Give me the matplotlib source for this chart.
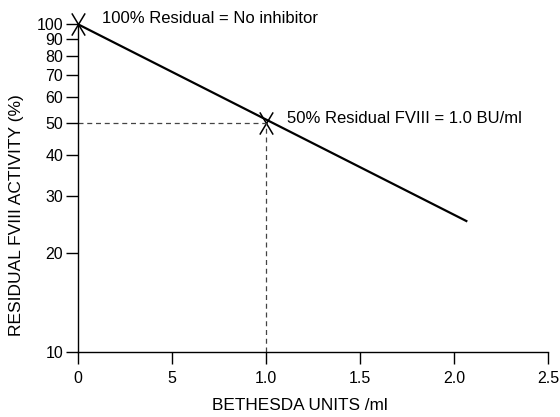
import numpy as np
import matplotlib
matplotlib.use("Agg")
import matplotlib.pyplot as plt
from matplotlib.path import Path

plt.rcParams['font.family'] = ['Liberation Sans', 'DejaVu Sans']

# inhibitor titration line (log residual activity vs BU)
bu = [0.0, 2.07]
residual = [100, 25]
# reference points
mark_bu = [0.0, 1.0]
mark_res = [100, 50]

xticks = [0, 0.5, 1.0, 1.5, 2.0, 2.5]
xticklabels = ["0", "5", "1.0", "1.5", "2.0", "2.5"]
yticks = [10, 20, 30, 40, 50, 60, 70, 80, 90, 100]

# tall narrow cross marker
cross = Path([(-0.6, -1), (0.6, 1), (-0.6, 1), (0.6, -1)],
             [Path.MOVETO, Path.LINETO, Path.MOVETO, Path.LINETO])

fig = plt.figure(figsize=(5.6, 4.17), dpi=100)
ax = fig.add_axes([0.139, 0.156, 0.84, 0.786])

ax.set_yscale('log')
ax.plot(bu, residual, color='black', lw=1.6, solid_capstyle='butt')
ax.plot(mark_bu, mark_res, ls='none', marker=cross, ms=16, mew=1.1,
        color='black', fillstyle='none', clip_on=False)

# dashed guide lines at 50%
ax.plot([0, 1.0], [50, 50], ls=(0, (4, 3)), color='#444444', lw=0.9)
ax.plot([1.0, 1.0], [10, 50], ls=(0, (4, 3)), color='#444444', lw=0.9)

ax.text(0.13, 104, "100% Residual = No inhibitor", fontsize=12, va='center', ha='left')
ax.text(1.11, 51.5, "50% Residual FVIII = 1.0 BU/ml", fontsize=12, va='center', ha='left')

ax.set_xlim(0, 2.5)
ax.set_ylim(10, 100)
ax.set_xticks(xticks)
ax.set_xticklabels(xticklabels)
ax.set_yticks(yticks)
ax.set_yticklabels([str(v) for v in yticks])
ax.yaxis.set_minor_locator(matplotlib.ticker.NullLocator())

for s in ['top', 'right']:
    ax.spines[s].set_visible(False)
ax.spines['left'].set_linewidth(1.0)
ax.spines['bottom'].set_linewidth(1.0)

ax.tick_params(axis='y', length=8.5, width=1.0, pad=2, labelsize=11.5)
ax.tick_params(axis='x', length=8.5, width=1.0, pad=5, labelsize=11.5)

ax.set_xlabel("BETHESDA UNITS /ml", fontsize=12.4)
ax.set_ylabel("RESIDUAL FVIII ACTIVITY (%)", fontsize=12.5)
ax.xaxis.set_label_coords(0.472, -0.14)
ax.yaxis.set_label_coords(-0.115, 0.418)

fig.savefig("out.png", dpi=100)
